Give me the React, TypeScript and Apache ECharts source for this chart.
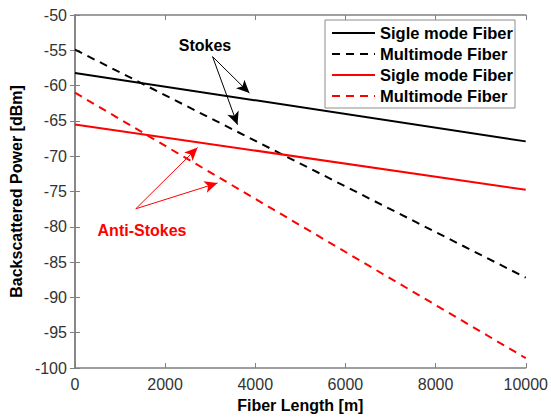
import React, { useEffect, useRef } from "react";
import * as echarts from "echarts";

const xTicks = [0, 2000, 4000, 6000, 8000, 10000];
const xEnds = [0, 10000];
const stokesSingle = [-58.2, -67.9];
const stokesMulti = [-54.9, -87.2];
const antiSingle = [-65.5, -74.75];
const antiMulti = [-61.0, -98.6];
const legendNames = ["Sigle mode Fiber", "Multimode Fiber", "Sigle mode Fiber", "Multimode Fiber"];
const legendColors = ["#000000", "#000000", "#ff0000", "#ff0000"];
const legendDashed = [false, true, false, true];
const stokesArrows = [
  [[3053, -55.9], [3871, -61.06]],
  [[3053, -55.9], [3606, -65.55]],
];
const antiArrows = [
  [[1349, -77.45], [2721, -68.77]],
  [[1349, -77.45], [3163, -73.8]],
];

const FONT = "'Liberation Sans', Arial, Helvetica, sans-serif";
const AXIS_COLOR = "#808080";

function pairs(xs: number[], ys: number[]) {
  return xs.map((x, i) => [x, ys[i]]);
}

export default function App() {
  const ref = useRef<HTMLDivElement>(null);
  useEffect(() => {
    if (!ref.current) return;
    const chart = echarts.init(ref.current, null, { renderer: "svg" });
    const arrowLine = (arr: number[][][], color: string) => ({
      silent: true,
      symbol: ["none", "arrow"],
      symbolSize: [9, 13],
      label: { show: false },
      lineStyle: { color, width: 1, type: "solid" },
      emphasis: { disabled: true },
      data: arr.map((a) => [{ coord: a[0] }, { coord: a[1] }]),
    });
    const lineSeries = (data: number[][], color: string, dashed: boolean, ml?: any) => ({
      type: "line",
      data,
      symbol: "none",
      xAxisIndex: 0,
      yAxisIndex: 0,
      lineStyle: { color, width: 2, type: dashed ? [8, 6] : "solid" },
      silent: true,
      markLine: ml,
    });
    const axisCommon = {
      axisLine: { show: true, lineStyle: { color: AXIS_COLOR, width: 1.5 } },
      axisTick: { show: true, inside: true, length: 5, lineStyle: { color: AXIS_COLOR, width: 1 } },
      splitLine: { show: false },
    };
    const legendTop = 20;
    const rows = [33, 54, 75, 96];
    const legendGraphics: any[] = [
      {
        type: "rect",
        shape: { x: 325, y: legendTop, width: 190, height: 88 },
        style: { fill: "#ffffff", stroke: "#8c8c8c", lineWidth: 1 },
        z: 100,
      },
    ];
    legendNames.forEach((name, i) => {
      legendGraphics.push({
        type: "line",
        shape: { x1: 332, y1: rows[i], x2: 375, y2: rows[i] },
        style: {
          stroke: legendColors[i],
          lineWidth: 2,
          lineDash: legendDashed[i] ? [8, 6] : null,
        },
        z: 101,
      });
      legendGraphics.push({
        type: "text",
        x: 380,
        y: rows[i],
        style: {
          text: name,
          font: `bold 16.5px ${FONT}`,
          fill: "#000000",
          verticalAlign: "middle",
        },
        z: 101,
      });
    });
    chart.setOption({
      animation: false,
      backgroundColor: "#ffffff",
      grid: { left: 74, right: 25, top: 15, bottom: 46, containLabel: false },
      xAxis: [
        {
          type: "value",
          min: 0,
          max: 10000,
          interval: 2000,
          ...axisCommon,
          axisLabel: {
            show: true,
            color: "#333333",
            fontSize: 16,
            fontFamily: FONT,
            margin: 8,
            formatter: (v: number) => String(v),
          },
          name: "Fiber Length [m]",
          nameLocation: "middle",
          nameGap: 29,
          nameTextStyle: { color: "#000000", fontSize: 16, fontWeight: "bold", fontFamily: FONT },
        },
        {
          type: "value",
          position: "top",
          min: 0,
          max: 10000,
          interval: 2000,
          ...axisCommon,
          axisLabel: { show: false },
        },
      ],
      yAxis: [
        {
          type: "value",
          min: -100,
          max: -50,
          interval: 5,
          ...axisCommon,
          axisLabel: { show: true, color: "#333333", fontSize: 16, fontFamily: FONT, margin: 8 },
          name: "Backscattered Power [dBm]",
          nameLocation: "middle",
          nameGap: 46,
          nameTextStyle: { color: "#000000", fontSize: 16, fontWeight: "bold", fontFamily: FONT },
        },
        {
          type: "value",
          position: "right",
          min: -100,
          max: -50,
          interval: 5,
          ...axisCommon,
          axisLabel: { show: false },
        },
      ],
      series: [
        lineSeries(pairs(xEnds, stokesSingle), "#000000", false, arrowLine(stokesArrows, "#000000")),
        lineSeries(pairs(xEnds, stokesMulti), "#000000", true),
        lineSeries(pairs(xEnds, antiSingle), "#ff0000", false, arrowLine(antiArrows, "#ff0000")),
        lineSeries(pairs(xEnds, antiMulti), "#ff0000", true),
      ],
      graphic: [
        ...legendGraphics,
        {
          type: "text",
          x: 205,
          y: 45,
          style: {
            text: "Stokes",
            font: `bold 16px ${FONT}`,
            fill: "#000000",
            align: "center",
            verticalAlign: "middle",
          },
          z: 50,
        },
        {
          type: "text",
          x: 142,
          y: 230,
          style: {
            text: "Anti-Stokes",
            font: `bold 16px ${FONT}`,
            fill: "#ff0000",
            align: "center",
            verticalAlign: "middle",
          },
          z: 50,
        },
      ],
    });
    return () => chart.dispose();
  }, []);
  return <div ref={ref} style={{ width: 551, height: 418, position: "absolute", left: 0, top: 0 }} />;
}
